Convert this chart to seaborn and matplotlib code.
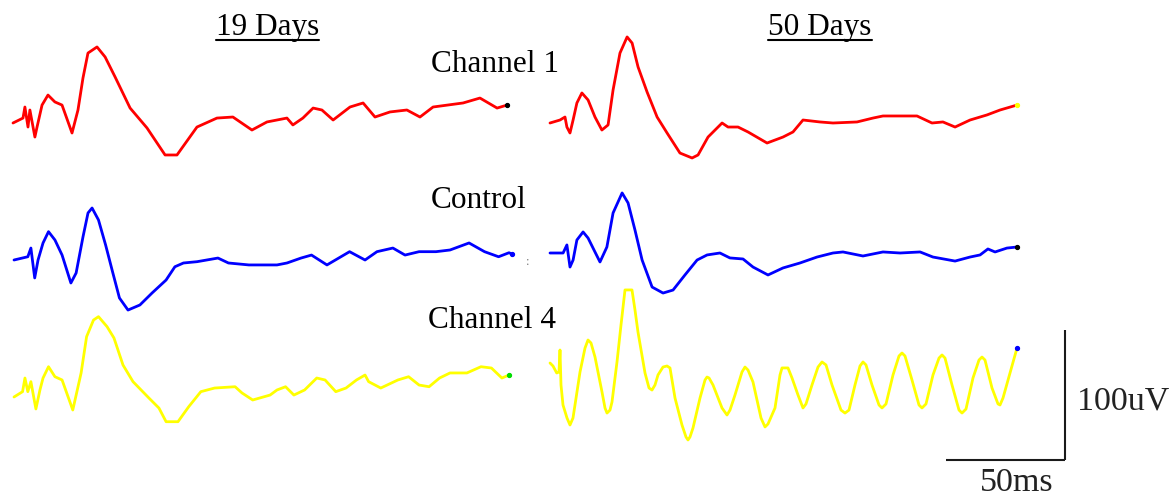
import matplotlib
matplotlib.use("Agg")
import matplotlib.pyplot as plt
import pandas as pd
import seaborn as sns
from matplotlib.lines import Line2D

# ---------------- data (time in ms from trace start, voltage in uV from baseline) -------------
column_labels = ["19 Days", "50 Days"]
row_labels = ["Channel 1", "Control", "Channel 4"]
scale_time_ms = 50
scale_volt_uv = 100
scale_time_label = "50ms"
scale_volt_label = "100uV"

t_19_ch1 = [0, 4.2, 5.0, 6.3, 7.1, 9.2, 10.1, 12.2, 14.7, 17.6, 20.6, 24.8, 27.3, 29.4, 31.5, 35.3,
            38.7, 42.9, 49.2, 56.3, 63.9, 68.9, 77.3, 85.7, 92.4, 100.4, 106.7, 115.1, 117.6, 121.8,
            126.1, 129.8, 134.5, 141.6, 147.1, 152.1, 158.4, 165.5, 171.0, 176.5, 189.1, 196.2,
            203.4, 207.6]
v_19_ch1 = [0, 3.8, 12.3, -3.1, 10.0, -10.8, -3.1, 13.8, 21.5, 16.2, 13.8, -7.7, 10.0, 34.6, 53.8,
            58.5, 50.8, 35.4, 11.5, -3.8, -24.6, -24.6, -3.1, 3.8, 4.6, -5.4, 0.8, 3.8, -1.5, 3.8,
            11.5, 10.0, 2.3, 12.3, 15.4, 4.6, 8.5, 10.0, 4.6, 12.3, 15.4, 19.2, 11.5, 13.8]

t_19_ctrl = [0, 5.8, 7.1, 8.7, 10.1, 12.2, 14.5, 17.2, 20.2, 23.9, 26.1, 29.0, 31.1, 32.8, 35.5,
             38.5, 41.4, 44.3, 47.9, 52.9, 58.0, 63.9, 67.6, 71.2, 76.9, 85.7, 90.1, 98.7, 110.5,
             114.7, 120.6, 125.0, 131.5, 141.0, 147.5, 152.5, 159.2, 164.3, 170.2, 177.3, 183.2,
             191.2, 197.7, 203.6, 208.0, 209.2]
v_19_ctrl = [0, 2.5, 9.2, -13.8, 0, 13.1, 21.8, 15.4, 3.8, -17.7, -10.0, 17.9, 36.2, 40.0, 30.8,
             11.5, -9.0, -29.2, -38.5, -34.6, -25.4, -15.4, -5.2, -2.3, -1.3, 1.5, -2.3, -3.8, -3.8,
             -2.3, 1.5, 3.8, -3.8, 6.4, 0, 6.4, 9.2, 3.8, 6.4, 6.4, 7.7, 13.1, 6.4, 2.5, 5.6, 4.6]

t_19_ch4 = [0, 3.6, 4.6, 5.8, 7.1, 9.2, 10.9, 12.2, 14.5, 17.2, 20.2, 24.7, 28.2, 30.5, 33.4, 35.5,
            39.1, 42.0, 45.8, 50.0, 56.7, 60.9, 63.9, 68.9, 73.4, 78.5, 84.3, 92.9, 95.8, 100.3,
            107.6, 110.5, 114.1, 117.6, 122.1, 127.2, 130.7, 135.2, 139.5, 143.9, 147.5, 149.0,
            154.1, 161.3, 165.8, 170.2, 174.4, 178.8, 183.2, 190.3, 196.2, 200.6, 205.0, 208.0]
v_19_ch4 = [0, 4.1, 14.6, 4.1, 11.8, -9.2, 5.4, 14.6, 23.3, 15.6, 13.1, -10.0, 18.5, 46.4, 59.2,
            61.8, 54.1, 45.4, 24.6, 11.8, -0.8, -8.5, -19.0, -19.0, -7.5, 4.1, 6.9, 7.9, 3.1, -2.3,
            1.5, 5.4, 7.9, 1.5, 5.4, 14.6, 13.1, 4.1, 6.9, 13.1, 16.9, 11.8, 6.9, 13.1, 15.6, 9.2,
            7.9, 14.6, 18.5, 18.5, 23.3, 22.3, 14.6, 16.9]

t_50_ch1 = [0, 4.2, 6.3, 7.1, 8.4, 9.7, 11.3, 13.4, 16.0, 18.9, 21.8, 24.4, 26.5, 29.4, 32.4, 34.5,
            37.0, 40.8, 45.0, 49.2, 54.6, 59.7, 62.2, 66.4, 72.3, 74.8, 79.0, 83.2, 91.2, 97.9,
            102.1, 106.3, 113.4, 118.9, 129.0, 135.7, 139.9, 147.1, 154.2, 160.5, 165.1, 170.2,
            176.5, 183.6, 189.1, 196.2]
v_50_ch1 = [0, 2.3, 4.6, -3.1, -7.7, 2.3, 15.4, 23.1, 17.7, 4.6, -5.4, -1.5, 25.4, 53.8, 66.2, 61.5,
            43.1, 23.8, 4.6, -7.7, -23.1, -26.9, -24.6, -10.8, 0, -3.1, -3.1, -6.9, -15.4, -10.8,
            -6.9, 2.3, 0.8, 0, 0.8, 3.8, 5.4, 5.4, 5.4, 0, 0.8, -3.1, 2.3, 6.2, 10.0, 13.8]

t_50_ctrl = [0, 5.5, 7.1, 8.4, 9.7, 11.3, 13.9, 16.0, 18.9, 21.0, 23.9, 26.5, 30.3, 32.8, 35.7,
             38.7, 42.9, 47.5, 51.7, 56.7, 61.8, 66.0, 71.4, 75.6, 81.1, 85.3, 91.6, 97.9, 105.0,
             112.2, 118.9, 123.1, 131.5, 139.9, 147.1, 155.5, 160.9, 170.2, 176.5, 180.7, 184.0,
             187.0, 192.0, 196.2]
v_50_ctrl = [0, 0, 6.2, -10.8, -5.4, 10.0, 16.2, 11.5, 0.8, -6.9, 4.6, 30.8, 46.2, 38.5, 17.7,
             -5.4, -26.2, -30.8, -28.5, -16.9, -5.4, -1.5, 0, -3.8, -4.6, -10.8, -16.9, -11.5,
             -7.7, -3.1, 0, 0.8, -2.3, 0.8, 0, 0.8, -3.1, -6.2, -3.1, -1.5, 3.1, 0.8, 3.8, 4.6]

t_50_ch4 = [0, 1.26, 2.82, 3.78, 4.20, 4.62, 5.46, 7.14, 8.40, 9.66,
            10.50, 12.61, 14.71, 15.97, 17.23, 18.91, 21.85, 23.11, 23.95, 25.21,
            26.05, 28.15, 29.83, 31.51, 34.45, 35.71, 36.97, 39.92, 41.60, 42.86,
            44.12, 45.38, 47.48, 49.16, 50.42, 52.52, 55.46, 57.14, 57.98, 58.82,
            60.08, 63.03, 65.13, 65.97, 66.81, 68.49, 72.27, 74.37, 75.63, 77.73,
            80.67, 81.93, 83.19, 85.29, 88.66, 90.34, 91.60, 94.54, 96.64, 97.48,
            100.0, 101.68, 104.20, 106.30, 107.56, 110.08, 112.61, 114.29, 115.97, 118.49,
            122.27, 123.95, 125.63, 128.15, 130.25, 131.51, 132.77, 135.29, 138.24, 139.50,
            141.18, 144.12, 146.64, 147.90, 149.16, 152.10, 155.04, 156.30, 157.98, 160.92,
            163.45, 164.71, 165.97, 168.91, 171.85, 173.11, 174.79, 177.73, 180.25, 181.51,
            182.77, 185.71, 188.24, 189.08, 190.34, 193.28, 196.22]
v_50_ch4 = [0, -2.3, -7.7, -6.9, 10.0, -16.9, -32.3, -42.3, -47.7, -42.3,
            -32.3, -6.9, 11.5, 17.7, 15.4, 4.6, -22.3, -34.6, -38.5, -36.2,
            -30.0, 0.8, 29.2, 56.2, 56.2, 40.8, 23.8, -7.7, -19.2, -20.8,
            -16.9, -9.2, -3.1, -2.3, -3.8, -26.9, -47.7, -56.9, -59.2, -56.9,
            -50.0, -26.9, -13.1, -10.8, -11.5, -16.9, -34.6, -40.0, -36.2, -24.6,
            -6.9, -3.1, -5.4, -14.6, -42.3, -49.2, -46.9, -34.6, -9.2, -3.8,
            -3.8, -11.5, -24.6, -34.6, -31.5, -16.9, -3.1, 0.8, -1.5, -16.9,
            -36.2, -38.5, -36.2, -16.9, -2.3, 0.8, -1.5, -16.9, -32.3, -34.6,
            -31.5, -9.2, 5.4, 7.7, 5.4, -13.1, -32.3, -34.6, -31.5, -9.2,
            3.8, 6.2, 3.8, -16.9, -36.2, -38.5, -35.4, -11.5, 2.3, 4.6,
            2.3, -19.2, -31.5, -32.3, -26.9, -7.7, 11.5]

# ---------------- layout / style ----------------
W, H, DPI = 1172, 496, 100
PX_PER_MS = 2.38
PX_PER_UV = 1.3


def ms(px):
    return px / PX_PER_MS


def uv(py):
    return (H - py) / PX_PER_UV


traces = [
    # t, v, colour, end-dot colour, start x (px), baseline y (px)
    (t_19_ch1, v_19_ch1, "#ff0000", "#000000", 13, 123),
    (t_19_ctrl, v_19_ctrl, "#0000ff", "#0000ff", 14, 260),
    (t_19_ch4, v_19_ch4, "#ffff00", "#00dd00", 14, 397),
    (t_50_ch1, v_50_ch1, "#ff0000", "#ffff00", 550, 123),
    (t_50_ctrl, v_50_ctrl, "#0000ff", "#000000", 550, 253),
    (t_50_ch4, v_50_ch4, "#ffff00", "#0000ff", 550, 363),
]

sns.set_theme(style="white")
plt.rcParams["font.family"] = ["Liberation Serif", "DejaVu Serif"]

fig = plt.figure(figsize=(W / DPI, H / DPI), dpi=DPI)
fig.patch.set_facecolor("white")
ax = fig.add_axes([0, 0, 1, 1])
ax.set_xlim(0, W / PX_PER_MS)
ax.set_ylim(0, H / PX_PER_UV)
ax.axis("off")

for t, v, col, endcol, x0, y0 in traces:
    df = pd.DataFrame({"t": [ti + ms(x0) for ti in t], "v": [vi + uv(y0) for vi in v]})
    sns.lineplot(data=df, x="t", y="v", ax=ax, color=col, lw=2.0, sort=False,
                 estimator=None, legend=False)
    ax.plot(df["t"].iloc[-1:], df["v"].iloc[-1:], "o", ms=2.8, color=endcol, zorder=5)

# scale bar
bar_x = ms(1065)
bar_y = uv(460)
ax.plot([bar_x, bar_x], [bar_y, bar_y + scale_volt_uv], color="#1a1a1a", lw=1.5,
        solid_capstyle="butt")
ax.plot([bar_x - scale_time_ms, bar_x], [bar_y, bar_y], color="#1a1a1a", lw=1.5,
        solid_capstyle="butt")
fig.text(1077 / W, 1 - 410 / H, scale_volt_label, fontsize=24.5, color="#222222",
         ha="left", va="baseline")
fig.text(1016.5 / W, 1 - 491 / H, scale_time_label, fontsize=24.5, color="#222222",
         ha="center", va="baseline")

# column headers (underlined)
fig.canvas.draw()
for label, cx in zip(column_labels, [267.5, 820]):
    txt = fig.text(cx / W, 1 - 35 / H, label, fontsize=22.5, color="black",
                   ha="center", va="baseline")
    fig.canvas.draw()
    bb = txt.get_window_extent().transformed(fig.transFigure.inverted())
    fig.add_artist(Line2D([bb.x0, bb.x1], [1 - 39.5 / H, 1 - 39.5 / H],
                          transform=fig.transFigure, color="black", lw=1.5))

# row labels
for label, cx, by in zip(row_labels, [495, 478.5, 492.5], [72, 208, 328]):
    fig.text(cx / W, 1 - by / H, label, fontsize=22.5, color="black",
             ha="center", va="baseline")

# small stray mark between the columns
fig.text(528 / W, 1 - 262 / H, ":", fontsize=9, color="#777777", ha="center", va="center")

fig.savefig("out.png", dpi=DPI, facecolor="white")
